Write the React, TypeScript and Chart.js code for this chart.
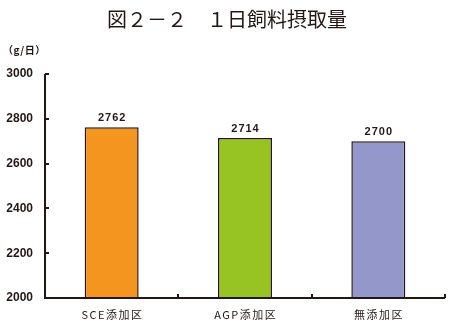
import React, { useEffect, useRef } from "react";
import { Chart, registerables } from "chart.js";

Chart.register(...registerables);

const categories = ["SCE添加区", "AGP添加区", "無添加区"];
const intakeValues = [2762, 2714, 2700];
const barColors = ["#F3951F", "#97C422", "#9497C9"];
const yTicks = [2000, 2200, 2400, 2600, 2800, 3000];
const titleText = "図２－２　１日飼料摂取量";
const unitText = "（g/日）";

const AXIS_COLOR = "#231815";

const decorPlugin = {
  id: "decor",
  afterDraw(chart: any) {
    const { ctx, chartArea, scales } = chart;
    const x = scales.x;
    const y = scales.y;
    ctx.save();
    // axes lines
    ctx.strokeStyle = AXIS_COLOR;
    ctx.lineWidth = 2;
    ctx.beginPath();
    ctx.moveTo(chartArea.left, chartArea.top);
    ctx.lineTo(chartArea.left, chartArea.bottom);
    ctx.lineTo(chartArea.right, chartArea.bottom);
    ctx.stroke();
    // y ticks inside
    yTicks.forEach((v) => {
      const py = Math.round(y.getPixelForValue(v));
      ctx.beginPath();
      ctx.moveTo(chartArea.left, py);
      ctx.lineTo(chartArea.left + 4, py);
      ctx.stroke();
    });
    // x ticks between categories
    const step = x.getPixelForValue(1) - x.getPixelForValue(0);
    for (let i = 0; i < categories.length; i++) {
      const px = Math.round(x.getPixelForValue(i) + step / 2);
      ctx.beginPath();
      ctx.moveTo(px, chartArea.bottom);
      ctx.lineTo(px, chartArea.bottom - 4);
      ctx.stroke();
    }
    // category labels
    ctx.fillStyle = "#231815";
    ctx.font = "11px 'Noto Sans CJK JP', sans-serif";
    (ctx as any).letterSpacing = "1.5px";
    ctx.textAlign = "center";
    ctx.textBaseline = "middle";
    categories.forEach((c, i) => {
      ctx.fillText(c, x.getPixelForValue(i) + 0.75, chartArea.bottom + 17);
    });
    // value labels
    ctx.font = "bold 11px 'Liberation Sans', Arial, sans-serif";
    (ctx as any).letterSpacing = "1px";
    const meta = chart.getDatasetMeta(0);
    meta.data.forEach((bar: any, i: number) => {
      ctx.fillText(String(intakeValues[i]), bar.x + 0.5, bar.y - 9);
    });
    // title
    (ctx as any).letterSpacing = "0px";
    ctx.font = "20px 'Noto Sans CJK JP', sans-serif";
    ctx.fillText(titleText, 227, 19);
    // unit
    ctx.font = "bold 10px 'Noto Sans CJK JP', sans-serif";
    (ctx as any).letterSpacing = "0.5px";
    ctx.textAlign = "left";
    ctx.fillText(unitText, 3, 50);
    ctx.restore();
  },
};

export default function App() {
  const ref = useRef<HTMLCanvasElement | null>(null);
  useEffect(() => {
    document.body.style.margin = "0";
    if (!ref.current) return;
    const chart = new Chart(ref.current, {
      type: "bar",
      data: {
        labels: categories,
        datasets: [
          {
            data: intakeValues,
            backgroundColor: barColors,
            borderColor: "#231815",
            borderWidth: 1.5,
            borderSkipped: "bottom",
            categoryPercentage: 1,
            barPercentage: 0.405,
          },
        ],
      },
      options: {
        animation: false,
        responsive: false,
        maintainAspectRatio: false,
        layout: { padding: { left: 0, top: 74, right: 10, bottom: 0 } },
        plugins: {
          legend: { display: false },
          tooltip: { enabled: false },
          title: { display: false },
        },
        scales: {
          x: {
            offset: true,
            grid: { display: false, drawTicks: false },
            border: { display: false },
            ticks: { display: false },
            afterFit: (s: any) => {
              s.height = 28;
            },
          },
          y: {
            min: 2000,
            max: 3000,
            grid: { display: false, drawTicks: false },
            border: { display: false },
            afterBuildTicks: (s: any) => {
              s.ticks = yTicks.map((v) => ({ value: v }));
            },
            ticks: {
              color: "#231815",
              font: { size: 12, weight: "bold", family: "'Liberation Sans', Arial, sans-serif" },
              padding: 12,
              callback: (v: any) => String(v),
            },
            afterFit: (s: any) => {
              s.width = 45;
            },
          },
        },
      },
      plugins: [decorPlugin],
    });
    return () => chart.destroy();
  }, []);
  return (
    <div style={{ width: 455, height: 326 }}>
      <canvas ref={ref} width={455} height={326} style={{ width: 455, height: 326, display: "block" }} />
    </div>
  );
}
